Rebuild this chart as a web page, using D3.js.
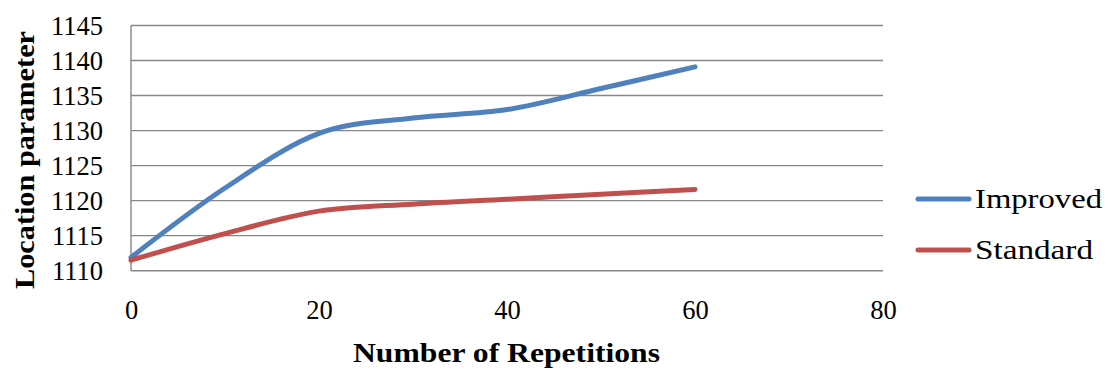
<!DOCTYPE html>
<html>
<head>
<meta charset="utf-8">
<script src="https://cdn.jsdelivr.net/npm/d3@7"></script>
<style>
  html, body { margin: 0; padding: 0; background: #fff; }
  svg { display: block; }
  text { font-family: "Liberation Serif", "Times New Roman", serif; fill: #000; }
</style>
</head>
<body>
<svg id="chart" width="1108" height="373"></svg>
<script>
// Location parameter estimates by number of repetitions
const repetitions = [0, 10, 20, 30, 40, 50, 60];
const improved    = [1111.9, 1121.8, 1129.6, 1131.8, 1133.0, 1136.0, 1139.1];
const standard    = [1111.5, 1115.3, 1118.5, 1119.5, 1120.2, 1120.9, 1121.6];

const seriesNames  = ["Improved", "Standard"];
const seriesColors = ["#4F81BD", "#C0504D"];

const xTickValues = [0, 20, 40, 60, 80];
const yTickValues = [1110, 1115, 1120, 1125, 1130, 1135, 1140, 1145];

const xTitle = "Number of Repetitions";
const yTitle = "Location parameter";

const FONT = "'Liberation Serif', 'Times New Roman', serif";

const svg = d3.select("#chart");

const plot = { left: 131, right: 883, top: 25.5, bottom: 270.7 };

const x = d3.scaleLinear().domain([0, 80]).range([plot.left, plot.right]);
const y = d3.scaleLinear().domain([1110, 1145]).range([plot.bottom, plot.top]);

// horizontal gridlines
svg.append("g")
  .selectAll("line")
  .data(yTickValues)
  .join("line")
  .attr("x1", plot.left)
  .attr("x2", plot.right)
  .attr("y1", d => y(d))
  .attr("y2", d => y(d))
  .attr("stroke", "#878787")
  .attr("stroke-width", 1.4);

// left axis line
svg.append("line")
  .attr("x1", plot.left).attr("x2", plot.left)
  .attr("y1", y(1145)).attr("y2", y(1110))
  .attr("stroke", "#878787")
  .attr("stroke-width", 1.4);

// y tick labels
const yAxis = d3.axisLeft(y).tickValues(yTickValues).tickSize(0).tickPadding(0).tickFormat(d3.format("d"));
const gy = svg.append("g").attr("transform", `translate(${plot.left - 28},0)`).call(yAxis);
gy.attr("font-family", null).attr("font-size", null);
gy.select(".domain").remove();
gy.selectAll("text")
  .style("font-family", FONT)
  .style("font-size", "26.5px")
  .attr("fill", "#000")
  .attr("dy", "0.33em");

// x tick labels
const xAxis = d3.axisBottom(x).tickValues(xTickValues).tickSize(0).tickPadding(0).tickFormat(d3.format("d"));
const gx = svg.append("g").attr("transform", `translate(0,${plot.bottom + 29})`).call(xAxis);
gx.attr("font-family", null).attr("font-size", null);
gx.select(".domain").remove();
gx.selectAll("text")
  .style("font-family", FONT)
  .style("font-size", "26.5px")
  .attr("fill", "#000")
  .attr("dy", "0.71em");

// series lines (smoothed)
const line = d3.line()
  .x((d, i) => x(repetitions[i]))
  .y(d => y(d))
  .curve(d3.curveCardinal.tension(0));

[improved, standard].forEach((vals, i) => {
  svg.append("path")
    .datum(vals)
    .attr("d", line)
    .attr("fill", "none")
    .attr("stroke", seriesColors[i])
    .attr("stroke-width", 5)
    .attr("stroke-linecap", "round")
    .attr("stroke-linejoin", "round");
});

// axis titles
svg.append("text")
  .attr("x", (plot.left + plot.right) / 2 - 0.5)
  .attr("y", 362)
  .attr("text-anchor", "middle")
  .style("font-family", FONT)
  .style("font-weight", "bold")
  .style("font-size", "27px")
  .attr("textLength", 307)
  .attr("lengthAdjust", "spacingAndGlyphs")
  .text(xTitle);

svg.append("text")
  .attr("transform", `translate(33.5,${160}) rotate(-90)`)
  .attr("text-anchor", "middle")
  .style("font-family", FONT)
  .style("font-weight", "bold")
  .style("font-size", "27px")
  .attr("textLength", 258)
  .attr("lengthAdjust", "spacingAndGlyphs")
  .text(yTitle);

// legend
const legendY = [199, 250];
const legendWidths = [127, 118];
seriesNames.forEach((name, i) => {
  const g = svg.append("g");
  g.append("line")
    .attr("x1", 918).attr("x2", 969)
    .attr("y1", legendY[i]).attr("y2", legendY[i])
    .attr("stroke", seriesColors[i])
    .attr("stroke-width", 5)
    .attr("stroke-linecap", "round");
  g.append("text")
    .attr("x", 975)
    .attr("y", legendY[i] + 8.5)
    .style("font-family", FONT)
    .style("font-size", "27px")
    .attr("textLength", legendWidths[i])
    .attr("lengthAdjust", "spacingAndGlyphs")
    .text(name);
});
</script>
</body>
</html>
